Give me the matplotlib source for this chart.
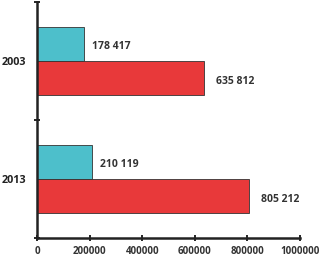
import matplotlib
matplotlib.use("Agg")
import matplotlib.pyplot as plt
import numpy as np

categories = ["2013", "2003"]
cyan_values = [210119, 178417]
red_values = [805212, 635812]
cyan_labels = ["210 119", "178 417"]
red_labels = ["805 212", "635 812"]
x_ticks = [0, 200000, 400000, 600000, 800000, 1000000]

plt.rcParams['font.family'] = ['Open Sans', 'DejaVu Sans']
fig = plt.figure(figsize=(3.22, 2.56), dpi=100)
ax = fig.add_axes([37/322, 1-238/256, 263/322, 236/256])

y = np.arange(len(categories))
h = 0.29
ax.barh(y + h/2, cyan_values, height=h, color="#4DBFCB", edgecolor="#333333", linewidth=0.6)
ax.barh(y - h/2, red_values, height=h, color="#E8393A", edgecolor="#333333", linewidth=0.6)

for i in range(len(categories)):
    ax.text(cyan_values[i] + 30000, y[i] + h/2 - 0.02, cyan_labels[i], va="center", ha="left",
            fontsize=7.5, fontweight="bold", color="#333333")
    ax.text(red_values[i] + 45000, y[i] - h/2 - 0.03, red_labels[i], va="center", ha="left",
            fontsize=7.5, fontweight="bold", color="#333333")

ax.set_xlim(0, 1000000)
ax.set_ylim(-0.5, 1.5)
ax.set_xticks(x_ticks)
ax.set_xticklabels([str(v) for v in x_ticks], fontsize=7, fontweight="bold", color="#333333")
ax.set_yticks(y)
ax.set_yticklabels(categories, fontsize=7.8, fontweight="bold", color="#222222")
ax.set_yticks([-0.5, 0.5, 1.5], minor=True)
ax.tick_params(axis="y", which="major", length=0, pad=8)
ax.tick_params(axis="y", which="minor", length=4, width=1.2, direction="inout")
ax.tick_params(axis="x", which="major", length=4, width=1.2, direction="inout", pad=4)

for s in ["top", "right"]:
    ax.spines[s].set_visible(False)
for s in ["left", "bottom"]:
    ax.spines[s].set_linewidth(1.8)
    ax.spines[s].set_color("#222222")

fig.savefig("out.png", dpi=100)
